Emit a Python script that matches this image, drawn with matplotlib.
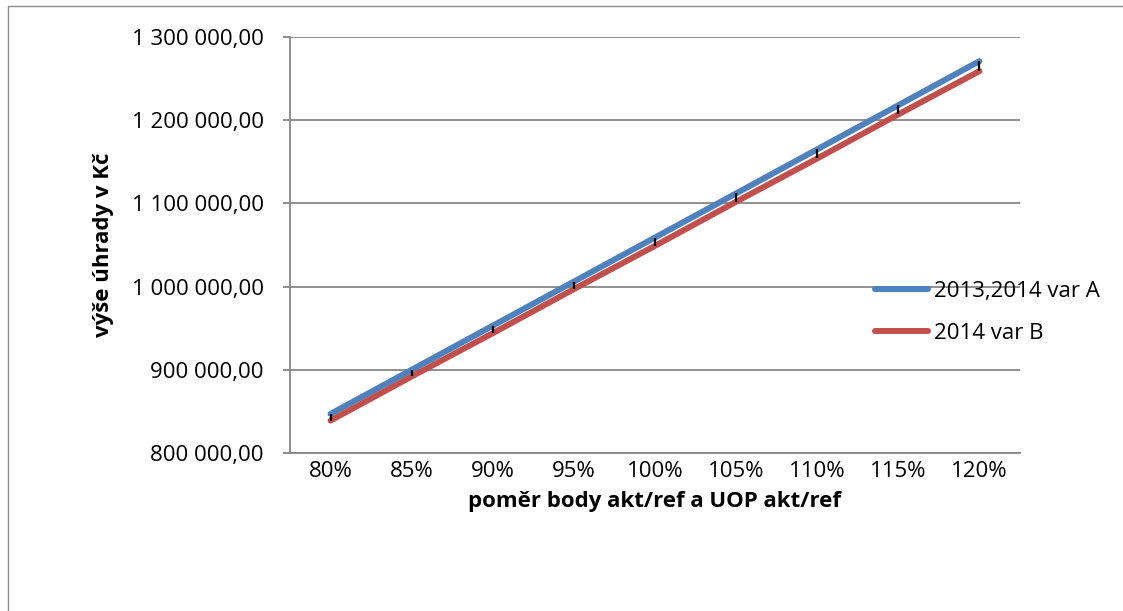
import matplotlib
matplotlib.use("Agg")
import matplotlib.pyplot as plt
from matplotlib.patches import Rectangle
from matplotlib.ticker import FuncFormatter

# ---- data ----
categories = ["80%", "85%", "90%", "95%", "100%", "105%", "110%", "115%", "120%"]
series_a_name = "2013,2014 var A"
series_b_name = "2014 var B"
series_a = [847000, 900000, 953000, 1006000, 1059000, 1112000, 1165000, 1218000, 1271000]
series_b = [839000, 892000, 944000, 997000, 1049000, 1102000, 1154000, 1207000, 1259000]
y_ticks = [800000, 900000, 1000000, 1100000, 1200000, 1300000]
x_title = "poměr body akt/ref a UOP akt/ref"
y_title = "výše úhrady v Kč"

FONT = "Open Sans"
plt.rcParams["font.family"] = [FONT, "DejaVu Sans"]

W, H = 1123, 611
fig = plt.figure(figsize=(W / 100, H / 100), dpi=100)

# outer chart border (right and bottom fall outside the picture)
fig.patches.append(Rectangle((8 / W, -0.05), 1.2, 1 - 6 / H + 0.05,
                             transform=fig.transFigure, fill=False,
                             edgecolor="#8c8c8c", linewidth=1.0))

ax = fig.add_axes([290 / W, 1 - 453 / H, 730 / W, 416 / H])
x = list(range(len(categories)))

grid_col = "#878787"
ax.set_ylim(800000, 1300000)
ax.set_xlim(-0.5, len(categories) - 0.5)
ax.set_yticks(y_ticks)
ax.yaxis.set_major_formatter(FuncFormatter(
    lambda v, p: f"{v:,.2f}".replace(",", " ").replace(".", ",")))
ax.set_xticks(x)
ax.set_xticklabels(categories)
ax.grid(axis="y", color=grid_col, linewidth=1.3)
ax.set_axisbelow(True)
for s in ["top", "right"]:
    ax.spines[s].set_visible(False)
for s in ["left", "bottom"]:
    ax.spines[s].set_color(grid_col)
    ax.spines[s].set_linewidth(1.3)
ax.tick_params(axis="y", length=5, width=1.3, color=grid_col, pad=14, labelsize=16)
ax.tick_params(axis="x", length=0, pad=6, labelsize=16)

la, = ax.plot(x, series_a, color="#4F81BD", linewidth=4.3, solid_capstyle="round",
              label=series_a_name)
lb, = ax.plot(x, series_b, color="#C0504D", linewidth=4.3, solid_capstyle="round",
              label=series_b_name)
ax.vlines(x, series_b, series_a, color="black", linewidth=1.6, zorder=5)

ax.set_xlabel(x_title, fontsize=16, fontweight="bold")
ax.xaxis.set_label_coords(0.5, (453 - 501) / 416)
ax.xaxis.label.set_va("center")
ax.set_ylabel(y_title, fontsize=16, fontweight="bold")
ax.yaxis.set_label_coords((103 - 290) / 730, 0.5)
ax.yaxis.label.set_va("center")

leg = fig.legend(handles=[la, lb], loc="center left",
                 bbox_to_anchor=(875 / W, 1 - 312.5 / H), frameon=False,
                 fontsize=16, handlelength=2.4, handletextpad=0.25,
                 labelspacing=0.95, borderpad=0, borderaxespad=0)

fig.savefig("out.png", dpi=100)
